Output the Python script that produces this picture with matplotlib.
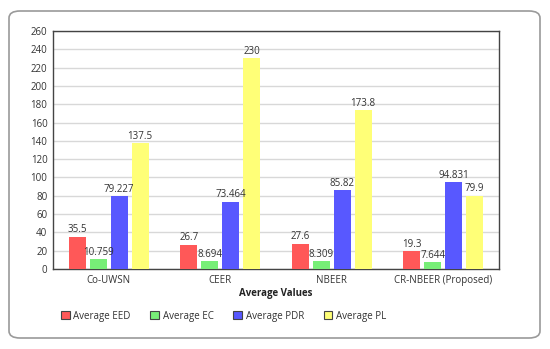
import numpy as np
import matplotlib.pyplot as plt
from matplotlib.patches import FancyBboxPatch, Patch

plt.rcParams['font.family'] = ['Open Sans', 'DejaVu Sans']

protocols = ['Co-UWSN', 'CEER', 'NBEER', 'CR-NBEER (Proposed)']
series = ['Average EED', 'Average EC', 'Average PDR', 'Average PL']
eed = [35.5, 26.7, 27.6, 19.3]
ec = [10.759, 8.694, 8.309, 7.644]
pdr = [79.227, 73.464, 85.82, 94.831]
pl = [137.5, 230, 173.8, 79.9]
eed_lbl = ['35.5', '26.7', '27.6', '19.3']
ec_lbl = ['10.759', '8.694', '8.309', '7.644']
pdr_lbl = ['79.227', '73.464', '85.82', '94.831']
pl_lbl = ['137.5', '230', '173.8', '79.9']
colors = ['#ff5858', '#77ee77', '#5858ff', '#ffff77']

fig = plt.figure(figsize=(5.5, 3.49), dpi=100)
W, H = 550, 349

# outer rounded frame
box = FancyBboxPatch((9 / W, 11 / H), 531 / W, 327 / H,
                     boxstyle='round,pad=0,rounding_size=0.02',
                     transform=fig.transFigure, facecolor='white',
                     edgecolor='#9a9a9a', linewidth=1.2, zorder=-5)
fig.patches.append(box)

ax = fig.add_axes([53 / W, 1 - 269 / H, 446 / W, 238 / H])
ax.set_zorder(2)
ax.set_facecolor('none')

x = np.arange(len(protocols))
slot = 0.1875
bw = 0.152
data = [eed, ec, pdr, pl]
lbls = [eed_lbl, ec_lbl, pdr_lbl, pl_lbl]
for i, (vals, lab) in enumerate(zip(data, lbls)):
    pos = x + (i - 1.5) * slot
    ax.bar(pos, vals, bw, color=colors[i], zorder=3)
    for px, v, t in zip(pos, vals, lab):
        ax.text(px, v + 1.5, t, ha='center', va='bottom', fontsize=7,
                color='#333333', zorder=4)

ax.set_xlim(-0.5, 3.5)
ax.set_ylim(0, 260)
ax.set_yticks(range(0, 261, 20))
ax.set_xticks(x)
ax.set_xticklabels(protocols)
ax.tick_params(axis='both', length=0, labelsize=7, colors='#333333', pad=4)
ax.yaxis.grid(True, color='#d8d8d8', linewidth=1, zorder=0)
ax.set_axisbelow(True)
for s in ax.spines.values():
    s.set_color('#444444')
    s.set_linewidth(1)
ax.set_xlabel('Average Values', fontsize=7, fontweight='bold',
              color='#222222', labelpad=2)

handles = [Patch(facecolor=c, edgecolor='#444444', linewidth=0.8) for c in colors]
fig.legend(handles, series, loc='center left', bbox_to_anchor=(52 / W, 1 - 316 / H),
           ncol=4, frameon=False, fontsize=7, handlelength=0.9,
           handleheight=0.9, handletextpad=0.4, columnspacing=2.0,
           labelcolor='#333333')

fig.savefig('out.png', dpi=100)
